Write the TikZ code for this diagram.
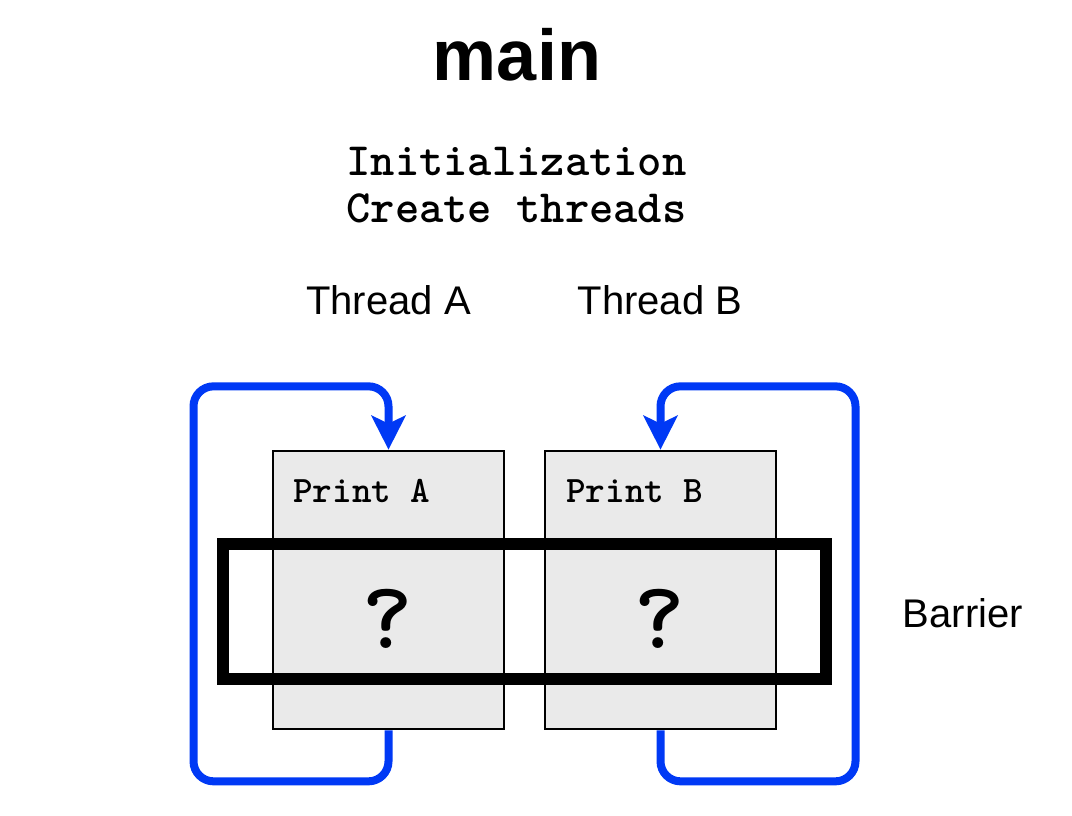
\documentclass[tikz,border=0pt]{standalone}
\usepackage{fontspec}
\setmainfont{Liberation Sans}
\usepackage{xcolor}
\usepackage{tikz}
\usetikzlibrary{arrows.meta,positioning}
\definecolor{loopblue}{HTML}{0039F5}
\definecolor{boxgray}{HTML}{EAEAEA}
\tikzset{
  printbox/.style={rectangle, draw=black, fill=boxgray, line width=2pt,
    minimum width=173.25pt, minimum height=208.5pt, inner sep=0pt},
  barrierbox/.style={rectangle, draw=black, line width=9pt,
    minimum width=452.25pt, minimum height=101.6pt, inner sep=0pt},
  looparrow/.style={-{Stealth[length=25.5pt, width=25.5pt, inset=6pt]},
    draw=loopblue, line width=6pt, rounded corners=15pt},
  headlab/.style={font=\fontsize{30}{36}\selectfont, inner sep=0pt, anchor=base},
  codelab/.style={font=\ttfamily\bfseries\fontsize{34.7}{40}\selectfont, inner sep=0pt, anchor=base},
  printlab/.style={font=\ttfamily\bfseries\fontsize{28}{32}\selectfont, inner sep=0pt, anchor=base west},
  qlab/.style={font=\ttfamily\bfseries\fontsize{72}{80}\selectfont, inner sep=0pt, anchor=base},
}

\begin{document}
\begin{tikzpicture}[x=0.75pt, y=-0.75pt]
  \useasboundingbox (0,0) rectangle (1072,816);

  % ============ Header ============
  \node[font=\bfseries\fontsize{54}{60}\selectfont, inner sep=0pt, anchor=base]
    (title) at (517,81) {main};
  \node[codelab] (init)   at (516.5,176) {Initialization};
  \node[codelab] (create) at (516.5,223) {Create threads};

  % ============ Thread labels ============
  \node[headlab] (threadA) at (388.5,315) {Thread A};
  \node[headlab] (threadB) at (660,315)   {Thread B};

  % ============ Thread boxes ============
  \node[printbox] (boxA) at (388.5,590) {};
  \node[printbox] (boxB) at (660.5,590) {};
  \node[printlab] (printA) at (293,503) {Print A};
  \node[printlab] (printB) at (566,503) {Print B};

  % ============ Barrier ============
  \node[barrierbox] (barrier) at (524.5,611.75) {};
  \node[headlab] (barrierlab) at (963,628) {Barrier};
  \node[qlab] (qA) at (388,648) {?};
  \node[qlab] (qB) at (660,648) {?};

  % ============ Loops (blue arrows) ============
  \draw[looparrow] (boxA.south) -- ++(0,51) -| ++(-195,-395) -| (boxA.north);
  \draw[looparrow] (boxB.south) -- ++(0,51) -| ++(195,-395) -| (boxB.north);

\end{tikzpicture}
\end{document}
